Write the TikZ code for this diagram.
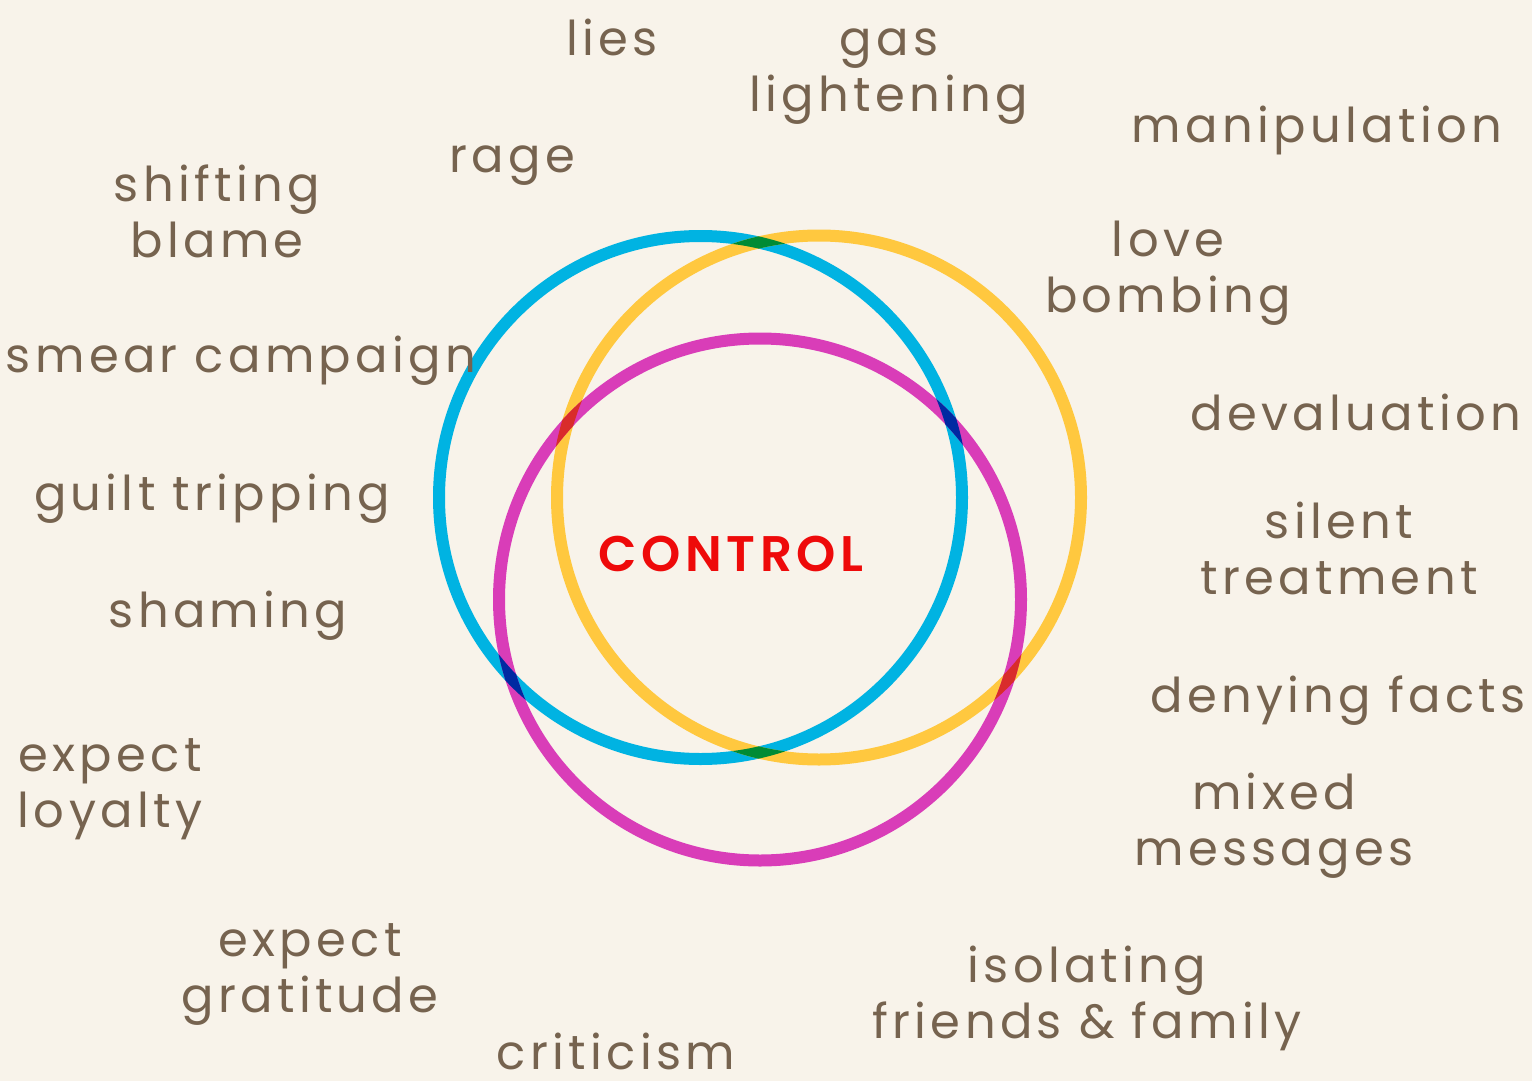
\documentclass[tikz,border=0pt]{standalone}
\usepackage{fontspec}
\newfontfamily\lblfont[LetterSpace=9]{Poppins}
\newfontfamily\ctrlfont[LetterSpace=9]{Poppins SemiBold}
\definecolor{bg}{HTML}{F8F3EA}
\definecolor{txt}{HTML}{76634F}
\definecolor{cblue}{HTML}{00B3E2}
\definecolor{cyellow}{HTML}{FFC83F}
\definecolor{cmag}{HTML}{D93DB8}
\definecolor{mixby}{HTML}{008B35}
\definecolor{mixym}{HTML}{D92C2B}
\definecolor{mixbm}{HTML}{002AA2}
\definecolor{cred}{HTML}{EE0A0A}
\tikzset{
  lbl/.style={text=txt, font=\lblfont\fontsize{48}{56}\selectfont, align=center, anchor=base, inner sep=0pt},
  ring/.style={line width=12pt},
}
\begin{document}
\begin{tikzpicture}[x=1pt,y=-1pt]
\fill[bg] (0,0) rectangle (1532,1081);
\useasboundingbox (0,0) rectangle (1532,1081);
% circle centres
\coordinate (cb) at (700.5,497.5);
\coordinate (cy) at (819,497.5);
\coordinate (cm) at (760,599.5);
\def\rb{261.5pt}\def\ry{262pt}\def\rm{261pt}
\draw[ring,cblue] (cb) circle[radius=\rb];
\draw[ring,cyellow] (cy) circle[radius=\ry];
\draw[ring,cmag] (cm) circle[radius=\rm];
% overlaps
\begin{scope}[even odd rule]
  \clip (cb) circle[radius=267.5pt] (cb) circle[radius=255.5pt];
  \draw[ring,mixby] (cy) circle[radius=\ry];
  \draw[ring,mixbm] (cm) circle[radius=\rm];
\end{scope}
\begin{scope}[even odd rule]
  \clip (cy) circle[radius=268pt] (cy) circle[radius=256pt];
  \draw[ring,mixym] (cm) circle[radius=\rm];
\end{scope}
% labels (base anchor = baseline of the last line)
\node[lbl] (lies) at (612,56) {lies};
\node[lbl] (gas) at (889,111) {gas\\lightening};
\node[lbl] (manip) at (1317,142) {manipulation};
\node[lbl] (rage) at (512,172) {rage};
\node[lbl] (shift) at (217,257) {shifting\\blame};
\node[lbl] (love) at (1168,312) {love\\bombing};
\node[lbl] (smear) at (241,372) {smear campaign};
\node[lbl] (deval) at (1356,430) {devaluation};
\node[lbl] (guilt) at (212,510) {guilt tripping};
\node[lbl] (silent) at (1339,594) {silent\\treatment};
\node[lbl] (shame) at (228,627) {shaming};
\node[lbl] (deny) at (1338,712) {denying facts};
\node[lbl] (loyal) at (110,827) {expect\\loyalty};
\node[lbl] (mixed) at (1274,865) {mixed\\messages};
\node[lbl] (grat) at (310,1012) {expect\\gratitude};
\node[lbl] (isol) at (1087,1038) {isolating\\friends \& family};
\node[lbl] (crit) at (616,1069) {criticism};
\node[text=cred, font=\ctrlfont\fontsize{50}{55}\selectfont, anchor=base, inner sep=0pt] (ctrl) at (731,571) {CONTROL};
\end{tikzpicture}
\end{document}
